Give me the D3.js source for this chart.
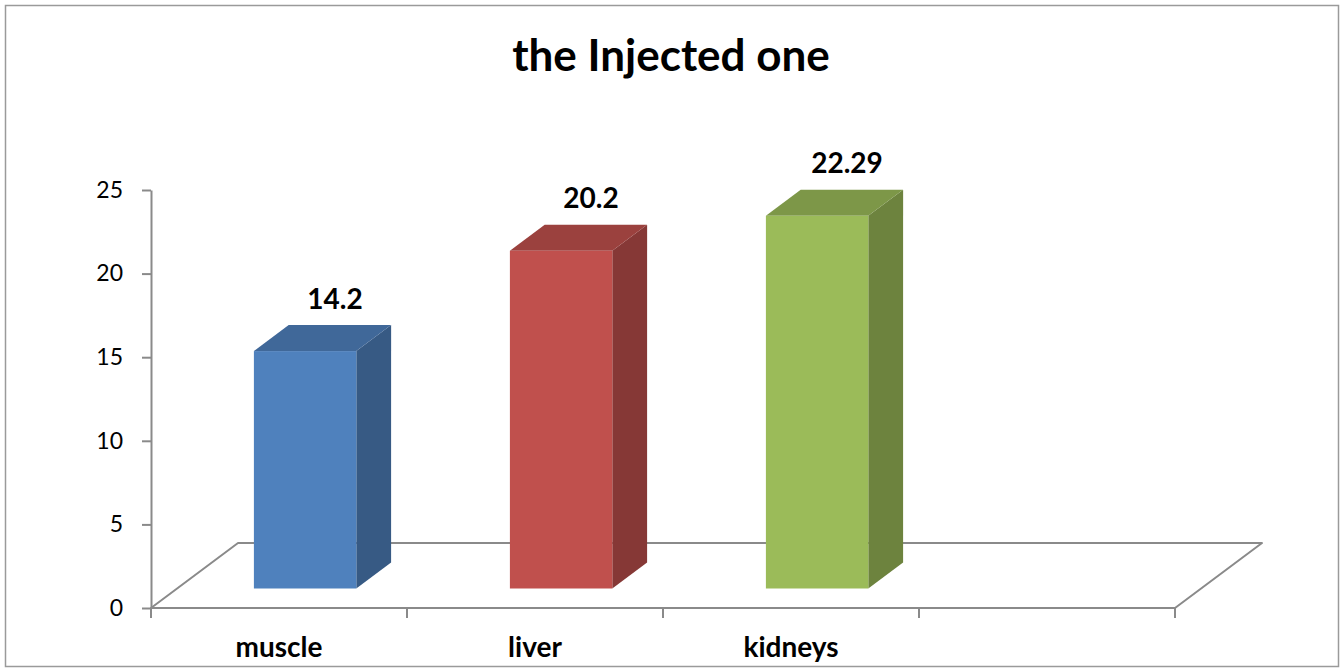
<!DOCTYPE html>
<html>
<head>
<meta charset="utf-8">
<script src="https://cdn.jsdelivr.net/npm/d3@7"></script>
<style>
  html, body { margin: 0; padding: 0; background: #fff; }
  svg { display: block; font-family: Lato, "Noto Sans", sans-serif; }
</style>
</head>
<body>
<div id="chart"></div>
<script>
// --- data ---
const title      = "the Injected one";
const categories = ["muscle", "liver", "kidneys", ""];   // 4th slot is empty in the original
const values     = [14.2, 20.2, 22.29, null];
const valueLabels = ["14.2", "20.2", "22.29", ""];
const yTicks     = [0, 5, 10, 15, 20, 25];
const frontColors = ["#4f81bd", "#c0504d", "#9bbb59"];

const W = 1341, H = 668;

// 3D-ish projection: depth z in [0,1] shifts right and up
const DX = 87, DY = -65;
const Z0 = 0.3, Z1 = 0.7;      // bar sits in the middle of the floor depth
const BAR_FRAC = 0.4;          // bar width as share of the band

const svg = d3.select("#chart").append("svg")
    .attr("width", W)
    .attr("height", H);

// outer frame
svg.append("rect")
    .attr("x", 5.5).attr("y", 5.5)
    .attr("width", W - 8).attr("height", H - 7)
    .attr("fill", "#fff")
    .attr("stroke", "#9a9a9a")
    .attr("stroke-width", 1.5);

const x = d3.scaleBand()
    .domain(categories.map((c, i) => i))
    .range([151, 1175])
    .padding(0);

const y = d3.scaleLinear()
    .domain([0, 25])
    .range([608, 190]);

const P = (px, py, z) => [px + z * DX, py + z * DY];

const axisColor = "#8a8a8a";

// --- floor ---
const xMin = x.range()[0], xMax = x.range()[1];
const floorPts = [P(xMin, y(0), 0), P(xMax, y(0), 0), P(xMax, y(0), 1), P(xMin, y(0), 1)];
svg.append("path")
    .attr("d", d3.line()(floorPts) + "Z")
    .attr("fill", "none")
    .attr("stroke", axisColor)
    .attr("stroke-width", 2)
    .attr("stroke-linejoin", "round");

// --- y axis ---
const yAxis = d3.axisLeft(y)
    .tickValues(yTicks)
    .tickSize(9)
    .tickPadding(19)
    .tickSizeOuter(0);

const gy = svg.append("g")
    .attr("transform", `translate(${xMin},0)`)
    .call(yAxis);
gy.select(".domain").attr("stroke", axisColor).attr("stroke-width", 2);
gy.selectAll(".tick line").attr("stroke", axisColor).attr("stroke-width", 2);
gy.selectAll(".tick text")
    .attr("font-size", 23)
    .attr("font-family", "Lato, sans-serif")
    .attr("fill", "#000");

// --- category ticks at band boundaries ---
const bounds = categories.map((c, i) => x(i)).concat([xMax]);
svg.append("g")
    .selectAll("line")
    .data(bounds)
    .join("line")
    .attr("x1", d => d).attr("x2", d => d)
    .attr("y1", y(0)).attr("y2", y(0) + 10)
    .attr("stroke", axisColor)
    .attr("stroke-width", 2);

// category labels
svg.append("g")
    .selectAll("text")
    .data(categories)
    .join("text")
    .attr("x", (d, i) => x(i) + x.bandwidth() / 2)
    .attr("y", 657)
    .attr("text-anchor", "middle")
    .attr("font-size", 28)
    .attr("font-weight", "bold")
    .attr("fill", "#000")
    .text(d => d);

// --- bars ---
const bars = values
    .map((v, i) => ({ v, i, color: frontColors[i] }))
    .filter(d => d.v != null);

const bw = x.bandwidth() * BAR_FRAC;
const shade = (c, k) => d3.rgb(c).darker(k).toString();

const gBars = svg.append("g");
bars.forEach(d => {
    const left  = x(d.i) + (x.bandwidth() - bw) / 2;
    const right = left + bw;
    const top   = y(d.v), bot = y(0);

    // side face
    gBars.append("path")
        .attr("d", d3.line()([P(right, bot, Z0), P(right, bot, Z1), P(right, top, Z1), P(right, top, Z0)]) + "Z")
        .attr("fill", shade(d.color, 1.0));
    // top face
    gBars.append("path")
        .attr("d", d3.line()([P(left, top, Z0), P(left, top, Z1), P(right, top, Z1), P(right, top, Z0)]) + "Z")
        .attr("fill", shade(d.color, 0.6));
    // front face
    const f0 = P(left, top, Z0), f1 = P(right, bot, Z0);
    gBars.append("rect")
        .attr("x", f0[0]).attr("y", f0[1])
        .attr("width", f1[0] - f0[0]).attr("height", f1[1] - f0[1])
        .attr("fill", d.color);
});

// value labels
svg.append("g")
    .selectAll("text")
    .data(bars)
    .join("text")
    .attr("x", d => x(d.i) + x.bandwidth() / 2 + 56)
    .attr("y", d => y(d.v) - 62)
    .attr("text-anchor", "middle")
    .attr("font-size", 28)
    .attr("font-weight", "bold")
    .attr("fill", "#000")
    .text(d => valueLabels[d.i]);

// --- title ---
svg.append("text")
    .attr("x", 671)
    .attr("y", 71)
    .attr("text-anchor", "middle")
    .attr("font-size", 44)
    .attr("font-weight", "bold")
    .attr("fill", "#000")
    .text(title);
</script>
</body>
</html>
